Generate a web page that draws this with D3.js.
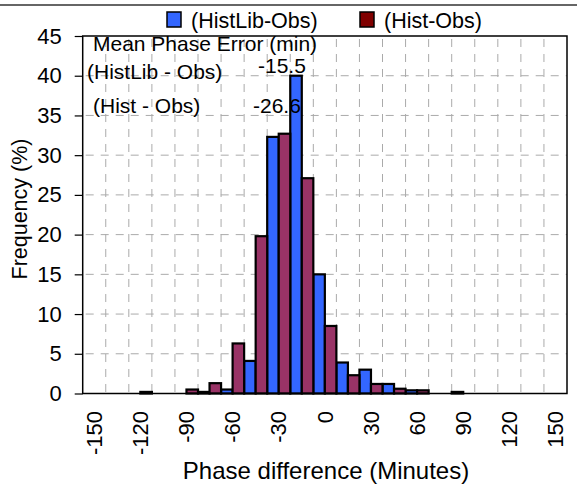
<!DOCTYPE html>
<html><head><meta charset="utf-8">
<script src="https://cdn.jsdelivr.net/npm/d3@7"></script>
<style>body{margin:0;background:#fff;} svg{display:block;} text{font-family:"Liberation Sans",Arial,Helvetica,sans-serif;fill:#000;}</style>
</head><body><svg id="c" width="582" height="492"></svg>
<script>
const categories = [-150,-135,-120,-105,-90,-75,-60,-45,-30,-15,0,15,30,45,60,75,90,105,120,135,150];
const histLibObs = [0,0,0,0,0,0.2,0.5,4.1,32.3,40.0,15.0,3.9,3.0,1.2,0.4,0,0.2,0,0,0,0];
const histObs    = [0,0,0.2,0,0.5,1.3,6.3,19.8,32.7,27.1,8.5,2.3,1.2,0.6,0.4,0,0,0,0,0,0];
const seriesNames = ["(HistLib-Obs)","(Hist-Obs)"];
const xTickLabels = ["-150","-120","-90","-60","-30","0","30","60","90","120","150"];
const yTickValues = [0,5,10,15,20,25,30,35,40,45];
const meanLabels = ["(HistLib - Obs)","(Hist - Obs)"];
const meanValues = ["-15.5","-26.6"];

const svg = d3.select("#c");
const L=82.7,R=567,T=36,B=393.5;
const x = d3.scaleBand().domain(categories).range([L,R]).padding(0);
const y = d3.scaleLinear().domain([0,45]).range([B,T]);
const fills = ["#3366FF","#993366"];
const legendFills = ["#3366FF","#800000"];

// top line
svg.append("line").attr("x1",0).attr("x2",577).attr("y1",5).attr("y2",5).attr("stroke","#333").attr("stroke-width",1.5);

// grid
const g = svg.append("g");
g.selectAll("line.h").data(yTickValues.filter(v=>v>0&&v<45)).enter().append("line")
 .attr("x1",L).attr("x2",R).attr("y1",d=>y(d)).attr("y2",d=>y(d))
 .attr("stroke","#aaa").attr("stroke-width",1).attr("stroke-dasharray","8,7").attr("stroke-dashoffset",-3);
g.selectAll("line.v").data(categories.slice(1)).enter().append("line")
 .attr("x1",d=>x(d)).attr("x2",d=>x(d)).attr("y1",T).attr("y2",B)
 .attr("stroke","#aaa").attr("stroke-width",1).attr("stroke-dasharray","8,7").attr("stroke-dashoffset",-3);

// bars
const series=[histLibObs,histObs];
series.forEach((vals,si)=>{
  svg.append("g").selectAll("rect").data(categories.map((c,i)=>({c,v:vals[i]})).filter(d=>d.v>0)).enter().append("rect")
   .attr("x",d=>x(d.c)+si*x.bandwidth()/2).attr("width",x.bandwidth()/2)
   .attr("y",d=>y(d.v)).attr("height",d=>B-y(d.v))
   .attr("fill",fills[si]).attr("stroke","#000").attr("stroke-width",2.2);
});

// frame
svg.append("rect").attr("x",L).attr("y",T).attr("width",R-L).attr("height",B-T).attr("fill","none").attr("stroke","#000").attr("stroke-width",1.5);

// y axis
const ya = svg.append("g").attr("transform",`translate(${L},0)`).call(d3.axisLeft(y).tickValues(yTickValues).tickSize(8).tickPadding(13));
ya.select(".domain").remove();
ya.selectAll("text").attr("font-size",22).attr("font-family","Liberation Sans, Arial, sans-serif");
ya.selectAll("line").attr("stroke","#000").attr("stroke-width",1.2);

// x labels
svg.append("g").selectAll("text").data(xTickLabels).enter().append("text")
 .attr("transform",d=>`translate(${x(+d)+x.bandwidth()/2},411) rotate(-90)`)
 .attr("text-anchor","end").attr("dy","0.35em").attr("font-size",22).text(d=>d);

// titles
svg.append("text").attr("x",326).attr("y",479).attr("text-anchor","middle").attr("font-size",24).text("Phase difference (Minutes)");
svg.append("text").attr("transform","translate(27,209) rotate(-90)").attr("text-anchor","middle").attr("font-size",21.5).text("Frequency (%)");

// legend
const lg = [[167,191],[360,384]];
seriesNames.forEach((n,i)=>{
  svg.append("rect").attr("x",lg[i][0]).attr("y",12).attr("width",14).attr("height",15).attr("fill",legendFills[i]).attr("stroke","#000").attr("stroke-width",1.5);
  svg.append("text").attr("x",lg[i][1]).attr("y",28).attr("font-size",21.5).text(n);
});

// annotations
svg.append("text").attr("x",93).attr("y",51).attr("font-size",21).text("Mean Phase Error (min)");
svg.append("text").attr("x",87).attr("y",79).attr("font-size",21).text(meanLabels[0]);
svg.append("text").attr("x",258).attr("y",72.5).attr("font-size",21).text(meanValues[0]);
svg.append("text").attr("x",93).attr("y",112.5).attr("font-size",21).text(meanLabels[1]);
svg.append("text").attr("x",253).attr("y",112.5).attr("font-size",21).text(meanValues[1]);
</script></body></html>
